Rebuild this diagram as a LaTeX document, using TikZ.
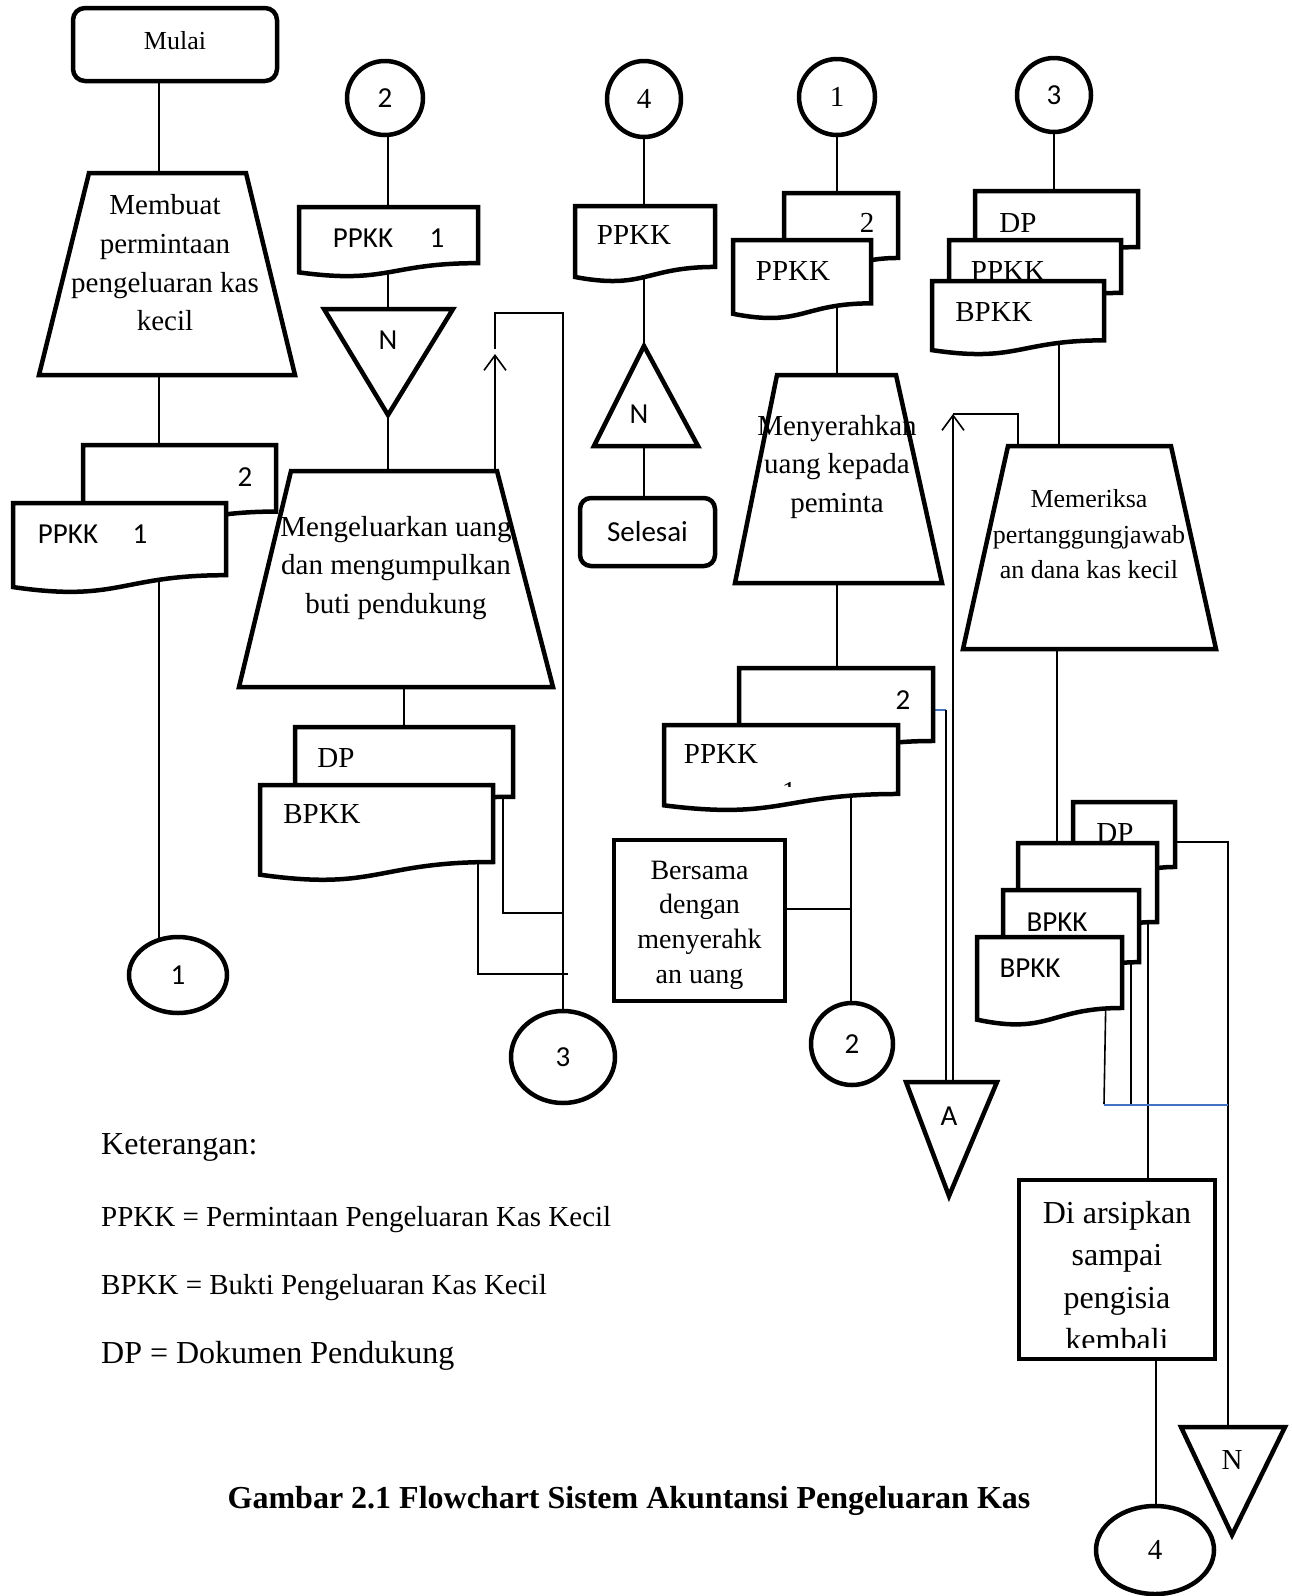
\documentclass[tikz,border=0pt]{standalone}
\usepackage{fontspec}
\setmainfont{Liberation Serif}
\newfontfamily\calfont{Carlito}
\usetikzlibrary{shapes.geometric,arrows.meta,backgrounds}
\definecolor{blueln}{RGB}{68,114,196}
% document symbol: name, x1, y1(top), x2, h
\newcommand\docshape[5]{%
  \filldraw[shp] (#2,#3) -- (#4,#3) -- (#4,{#3+0.802*#5})
    .. controls ({(#2+#4)/2},{#3+0.802*#5}) and ({(#2+#4)/2},{#3+1.107*#5}) .. (#2,{#3+0.934*#5}) -- cycle;
  \coordinate (#1) at ({(#2+#4)/2},{#3+0.5*#5});
}
\begin{document}
\begin{tikzpicture}[x=1pt,y=-1pt,
  shp/.style={draw=black,fill=white,line width=4.5pt,line join=miter},
  conn/.style={draw=black,line width=1.6pt},
  bconn/.style={draw=blueln,line width=1.6pt},
  upar/.style={-{Straight Barb[length=15pt,width=22pt]}},
  circ/.style={ellipse,draw=black,fill=white,line width=4.5pt,inner sep=0pt},
  rtx/.style={inner sep=0pt,align=center,font=\fontsize{29}{38.7}\selectfont},
  stx/.style={inner sep=0pt,align=center,font=\fontsize{26}{35.5}\selectfont},
  sns/.style={inner sep=0pt,font=\calfont\fontsize{29}{34}\selectfont},
  lgd/.style={inner sep=0pt,anchor=west,font=\fontsize{29}{34}\selectfont}
]
\useasboundingbox (0,0) rectangle (1291,1596);

% ================= column 1
\node[draw=black,fill=white,line width=4.5pt,rounded corners=12pt,minimum width=204pt,minimum height=73pt,inner sep=0pt,font=\fontsize{26}{30}\selectfont] (mulai) at (175,44.5) {\raisebox{8pt}{Mulai}};
\filldraw[shp] (89,173) -- (246,173) -- (295,375) -- (39,375) -- cycle;
\coordinate (t1top) at (159,173);
\node[rtx] (t1) at (165,263) {Membuat\\permintaan\\pengeluaran kas\\kecil};
\docshape{d1b}{83}{445}{276}{83}
\node[sns] (d1bt) at (245,477) {2};
\docshape{d1f}{13}{503}{226}{90}
\node[sns] (d1ft) at (68,534) {PPKK};
\node[sns] (d1fn) at (140,534) {1};
\node[circ,sns,minimum width=98pt,minimum height=76pt] (c1b) at (178,975) {1};

% ================= column 2
\node[circ,sns,minimum width=76pt,minimum height=74pt] (c2t) at (385,98) {2};
\docshape{d2a}{299}{207}{478}{70}
\node[sns] (d2at) at (363,238) {PPKK};
\node[sns] (d2an) at (437,238) {1};
\filldraw[shp] (324,309) -- (453,309) -- (388,415) -- cycle;
\coordinate (n2) at (388,340);
\node[sns] (n2t) at (388,340) {N};
\filldraw[shp] (291,471) -- (497,471) -- (553,687) -- (239,687) -- cycle;
\coordinate (t2) at (396,580);
\node[rtx] (t2t) at (396,568) {Mengeluarkan uang\\dan mengumpulkan\\buti pendukung};
\docshape{d2dp}{295}{727}{513}{87}
\node[rtx] (d2dpt) at (336,758) {DP};
\docshape{d2bp}{260}{785}{493}{96}
\node[rtx] (d2bpt) at (322,814) {BPKK};
\node[circ,sns,minimum width=104pt,minimum height=92pt] (c3b) at (563,1057) {3};

% ================= column 3
\node[circ,rtx,minimum width=74pt,minimum height=76pt] (c4t) at (644,99) {4};
\docshape{d3}{575}{206}{715}{76}
\node[rtx] (d3t) at (634,235) {PPKK};
\filldraw[shp] (644,346) -- (698,446) -- (594,446) -- cycle;
\node[sns] (n3t) at (639,414) {N};
\node[draw=black,fill=white,line width=4.5pt,rounded corners=11pt,minimum width=135pt,minimum height=68pt,inner sep=0pt,sns] (selesai) at (647.5,532) {Selesai};

% ================= column 4
\node[circ,rtx,minimum width=76pt,minimum height=76pt] (c1t) at (837,97) {1};
\docshape{d4a}{784}{193}{898}{81}
\node[rtx] (d4at) at (867,223) {2};
\docshape{d4b}{733}{240}{871}{79}
\node[rtx] (d4bt) at (793,271) {PPKK};
\filldraw[shp] (777,375) -- (896,375) -- (942,583) -- (735,583) -- cycle;
\node[rtx] (t3t) at (837,467) {Menyerahkan\\uang kepada\\peminta};
\docshape{d4c}{739}{668}{933}{91}
\node[sns] (d4ct) at (903,700) {2};
\docshape{d4d}{664}{725}{898}{86}
\node[rtx] (d4dt) at (721,754) {PPKK};
\begin{scope}
\clip (770,770) rectangle (810,786);
\node[rtx,anchor=base] (d4dn) at (789,801) {1};
\end{scope}
\node[draw=black,fill=white,line width=4.5pt,minimum width=171pt,minimum height=161pt,inner sep=0pt] (bers) at (699.5,920.5) {};
\begin{scope}
\clip (616,842) rectangle (783,988);
\node[inner sep=0pt,align=center,font=\fontsize{28}{34.7}\selectfont] (berst) at (699.5,925) {Bersama\\dengan\\menyerahk\\an uang};
\end{scope}
\node[circ,sns,minimum width=82pt,minimum height=82pt] (c2b) at (852,1044) {2};
\filldraw[shp] (906,1082) -- (997,1082) -- (949,1196) -- cycle;
\coordinate (ta) at (949,1110);
\node[sns] (tat) at (949,1116) {A};

% ================= column 5
\node[circ,sns,minimum width=74pt,minimum height=74pt] (c3t) at (1054,95) {3};
\docshape{d5a}{975}{191}{1138}{70}
\node[rtx] (d5at) at (1018,223) {DP};
\docshape{d5b}{949}{240}{1121}{66}
\node[rtx] (d5bt) at (1008,271) {PPKK};
\docshape{d5c}{932}{281}{1104}{74}
\node[rtx] (d5ct) at (994,312) {BPKK};
\filldraw[shp] (1008,446) -- (1171,446) -- (1216,649) -- (963,649) -- cycle;
\coordinate (t4) at (1089,560);
\node[stx] (t4t) at (1089,534.5) {Memeriksa\\pertanggungjawab\\an dana kas kecil};
\docshape{s1}{1073}{802}{1175}{81}
\node[rtx] (s1t) at (1115,833) {DP};
\docshape{s2}{1018}{843}{1157}{98.5}
\docshape{s3}{1003}{890}{1139}{90}
\node[sns] (s3t) at (1057,922) {BPKK};
\docshape{s4}{977}{937}{1122}{88.5}
\node[sns] (s4t) at (1030,968) {BPKK};
\node[draw=black,fill=white,line width=4.5pt,minimum width=196pt,minimum height=179pt,inner sep=0pt] (arsip) at (1117,1269.5) {};
\begin{scope}
\clip (1021,1182) rectangle (1213,1347);
\node[inner sep=0pt,align=center,font=\fontsize{32}{42.3}\selectfont] (arsipt) at (1117,1276) {Di arsipkan\\sampai\\pengisia\\kembali};
\end{scope}
\node[circ,rtx,minimum width=118pt,minimum height=88pt] (c4b) at (1155,1550) {4};
\filldraw[shp] (1181,1427) -- (1285,1427) -- (1232,1535) -- cycle;
\coordinate (nb) at (1232,1460);
\node[rtx] (nbt) at (1232,1460) {N};

% ================= legend and caption
\node[lgd,font=\fontsize{32}{38}\selectfont] (ket) at (101,1147) {Keterangan:};
\node[lgd] (k1) at (101,1220) {PPKK = Permintaan Pengeluaran Kas Kecil};
\node[lgd] (k2) at (101,1288) {BPKK = Bukti Pengeluaran Kas Kecil};
\node[lgd,font=\fontsize{32}{38}\selectfont] (k3) at (101,1356) {DP = Dokumen Pendukung};
\node[inner sep=0pt,font=\bfseries\fontsize{32}{38}\selectfont] (title) at (629,1501) {Gambar 2.1 Flowchart Sistem Akuntansi Pengeluaran Kas};

% ================= connectors (behind the shapes)
\begin{scope}[on background layer]
\fill[white] (0,0) rectangle (1291,1596);
% column 1
\draw[conn] (mulai.center -| t1top) -- (t1top |- c1b.center);
% column 2
\draw[conn] (c2t.center -| n2) -- (n2 |- t2);
\draw[conn] (t2 -| d2dp) -- (d2dp);
\draw[upar,conn] (495,490) coordinate (a2s) -- (495,354) coordinate (a2t);
\draw[conn] (495,349) coordinate (a2u) -- (495,313) coordinate (a2c) -- (a2c -| c3b.center) -- (c3b.center);
\coordinate (dpj) at (503,913);
\draw[conn] (dpj |- d2dp) -- (dpj) -- (dpj -| c3b.center);
\coordinate (bpj) at (478,974);
\draw[conn] (bpj |- d2bp) -- (bpj) -- (568,974) coordinate (bpe);
% column 3
\draw[conn] (c4t.center) -- (c4t.center |- selesai.center);
% column 4
\draw[conn] (c1t.center) -- (c1t.center |- d4d);
\coordinate (bj) at (851,909);
\draw[conn] (bj |- d4d) -- (bj |- c2b.center);
\draw[conn] (bers.center |- bj) -- (bj);
\coordinate (ab1) at (946,710);
\draw[bconn] (d4c.center |- ab1) -- (ab1);
\draw[conn] (ab1) -- (ab1 |- ta);
\coordinate (ab2) at (953,414);
\draw[upar,conn] (ab2 |- ta) -- (ab2);
\draw[conn] (ab2) -- (1018,414) coordinate (ab3) -- (ab3 |- t4);
% column 5
\draw[conn] (c3t.center) -- (1054,300) coordinate (l5a);
\draw[conn] (1059,300) coordinate (l5b) -- (l5b |- t4);
\draw[conn] (1057,600) coordinate (l5c) -- (l5c |- s2);
\coordinate (sj1) at (1228,842);
\draw[conn] (s1 |- sj1) -- (sj1) -- (sj1 |- nb);
\coordinate (sj2) at (1148,900);
\draw[conn] (sj2) -- (sj2 |- arsip.center);
\coordinate (sj3) at (1131,1104);
\draw[conn] (sj3 |- s3) -- (sj3);
\coordinate (sj4) at (1104,1104);
\draw[conn] (1106,990) coordinate (sj4a) -- (sj4);
\draw[bconn] (1104,1105) coordinate (bl1) -- (bl1 -| sj1);
\draw[conn] (1156,1300) coordinate (sj5) -- (sj5 |- c4b.center);
\end{scope}
\end{tikzpicture}
\end{document}
